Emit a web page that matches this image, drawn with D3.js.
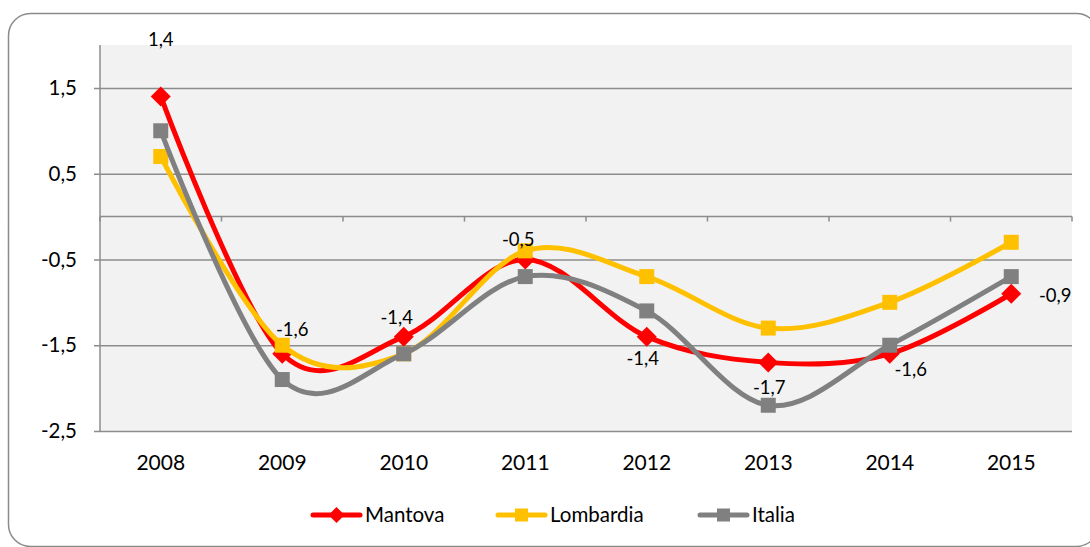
<!DOCTYPE html>
<html><head><meta charset="utf-8">
<script src="https://cdn.jsdelivr.net/npm/d3@7"></script>
<style>body{margin:0;background:#fff}svg{display:block}text{font-family:Lato,"Open Sans",sans-serif;fill:#000}</style>
</head><body><svg id="c" width="1090" height="547"></svg>
<script>
const years = ["2008","2009","2010","2011","2012","2013","2014","2015"];
const mantova = [1.4,-1.6,-1.4,-0.5,-1.4,-1.7,-1.6,-0.9];
const lombardia = [0.7,-1.5,-1.6,-0.4,-0.7,-1.3,-1.0,-0.3];
const italia = [1.0,-1.9,-1.6,-0.7,-1.1,-2.2,-1.5,-0.7];
const yTicks = [1.5,0.5,-0.5,-1.5,-2.5];
const seriesNames = ["Mantova","Lombardia","Italia"];
// label offsets (px) for Mantova data labels
const labelOffsets = [[0,-57],[10,-24],[-7,-19],[-7,-20],[-4,22],[1,25],[21,16],[44,2]];

const svg = d3.select("#c");
const colors = {Mantova:"#FF0000",Lombardia:"#FFC000",Italia:"#808080"};
const L=100,R=1072,T=45,B=431;
const x = d3.scaleBand().domain(years).range([L,R]);
const y = d3.scaleLinear().domain([-2.5,2]).range([B,T]);
const fmt = v => d3.format(".1f")(v).replace(".",",").replace("−","-");

svg.append("rect").attr("x",8.5).attr("y",13.5).attr("width",1090).attr("height",533)
  .attr("rx",22).attr("fill","#fff").attr("stroke","#8a8a8a").attr("stroke-width",1.5);
svg.append("rect").attr("x",L).attr("y",T).attr("width",R-L).attr("height",B-T).attr("fill","#F2F2F2");

const grid="#8c8c8c";
const yAxis = d3.axisLeft(y).tickValues(yTicks).tickSize(R-L+6).tickFormat(fmt).tickPadding(17);
const gy = svg.append("g").attr("transform",`translate(${R},0)`).call(yAxis);
gy.select(".domain").remove();
gy.selectAll("line").attr("stroke",grid).attr("stroke-width",1.5);
gy.selectAll("text").style("font-size","20.5px").attr("fill","#000");
svg.append("line").attr("x1",L).attr("x2",L).attr("y1",T).attr("y2",B).attr("stroke",grid).attr("stroke-width",1.5);

const xAxis = d3.axisBottom(x).tickSize(0).tickFormat(()=>"");
const gx = svg.append("g").attr("transform",`translate(0,${y(0)})`).call(xAxis);
gx.select(".domain").attr("stroke",grid).attr("stroke-width",1.5).attr("d",`M${L},0H${R}`);
gx.selectAll(".tick").remove();
const bounds = d3.range(years.length+1).map(i=>L+i*x.bandwidth());
gx.selectAll("line.bt").data(bounds).join("line").attr("class","bt")
  .attr("x1",d=>d).attr("x2",d=>d).attr("y1",0).attr("y2",5).attr("stroke",grid).attr("stroke-width",1.5);

svg.append("g").selectAll("text").data(years).join("text")
  .attr("x",d=>x(d)+x.bandwidth()/2).attr("y",470).attr("text-anchor","middle")
  .style("font-size","21px").text(d=>d);

const data = {Mantova:mantova,Lombardia:lombardia,Italia:italia};
const line = d3.line().x((d,i)=>x(years[i])+x.bandwidth()/2).y(d=>y(d)).curve(d3.curveCardinal.tension(0));
const diamond = s => `M0,${-s}L${s},0L0,${s}L${-s},0Z`;

seriesNames.forEach(name=>{
  const vals = data[name];
  const g = svg.append("g");
  g.append("path").datum(vals).attr("d",line).attr("fill","none")
    .attr("stroke",colors[name]).attr("stroke-width",5).attr("stroke-linejoin","round");
  g.selectAll("path.m").data(vals).join("path").attr("class","m")
    .attr("transform",(d,i)=>`translate(${x(years[i])+x.bandwidth()/2},${y(d)})`)
    .attr("d", name==="Mantova" ? diamond(10) : "M-7.5,-7.5H7.5V7.5H-7.5Z")
    .attr("fill",colors[name]);
});

svg.append("g").selectAll("text").data(mantova).join("text")
  .attr("x",(d,i)=>x(years[i])+x.bandwidth()/2+labelOffsets[i][0])
  .attr("y",(d,i)=>y(d)+labelOffsets[i][1])
  .attr("dy","0.35em").attr("text-anchor","middle").style("font-size","18.5px")
  .text(fmt);

const legX = [313,498,700];
const lg = svg.append("g");
seriesNames.forEach((name,i)=>{
  const g = lg.append("g").attr("transform",`translate(${legX[i]},515)`);
  g.append("line").attr("x1",0).attr("x2",47).attr("stroke",colors[name]).attr("stroke-width",5).attr("stroke-linecap","round");
  g.append("path").attr("transform","translate(23.5,0)")
    .attr("d", name==="Mantova" ? diamond(8) : "M-6.5,-6.5H6.5V6.5H-6.5Z").attr("fill",colors[name]);
  g.append("text").attr("x",52).attr("dy","0.35em").style("font-size","20.5px").text(name);
});
</script></body></html>
